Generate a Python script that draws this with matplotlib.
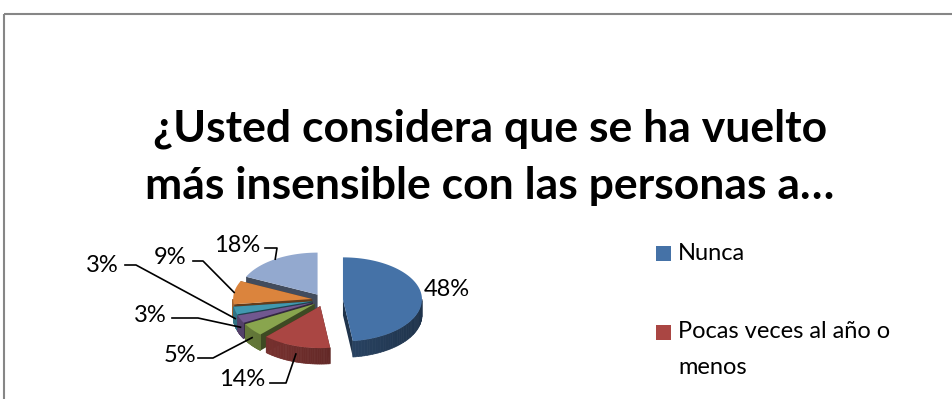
# -*- coding: utf-8 -*-
# plot.py - pie 3D "¿Usted considera que se ha vuelto más insensible...?"
import textwrap
import numpy as np
import matplotlib
matplotlib.use("Agg")
import matplotlib.pyplot as plt
from matplotlib.patches import Polygon, Rectangle
from matplotlib.colors import to_rgb

# ---------- datos ----------
categories = ["Nunca", "Pocas veces al año o menos", "Una vez al mes o menos",
              "Unas pocas veces al mes", "Una vez a la semana",
              "Pocas veces a la semana", "Todos los días"]
percent = [48, 14, 5, 3, 3, 9, 18]
title_lines = ["¿Usted considera que se ha vuelto", "más insensible con las personas a…"]

# ---------- estilo ----------
colors = ["#4572A7", "#AA4643", "#89A54E", "#71588F", "#4198AF", "#DB843D", "#93A9CF"]
explode = [19, 12, 12, 12, 12, 12, 12]          # separación de cada sector (px)
label_xy = [(447, 290), (242, 380), (180, 356), (150, 315), (102, 265), (170, 258), (237, 245)]
leader_start = [None, (270, 383), (198, 358), (172, 318), (125, 265), (193, 261), (265, 248)]
leader_elbow = [None, (286, 383), (213, 358), (198, 318), (136, 265), (203, 261), (277, 248)]

plt.rcParams['font.family'] = ['Lato', 'DejaVu Sans']

W, H = 953, 399
fig = plt.figure(figsize=(W / 100, H / 100), dpi=100)
ax = fig.add_axes([0, 0, 1, 1])
ax.set_xlim(0, W); ax.set_ylim(H, 0); ax.axis("off")

# marco del gráfico
ax.add_patch(Rectangle((4.5, 13.5), 1200, 600, fill=False, ec="#868686", lw=1.5))

# título
ax.text(490, 129, title_lines[0], ha="center", va="center", fontsize=32, fontweight="bold")
ax.text(490, 186, title_lines[1], ha="center", va="center", fontsize=32, fontweight="bold")

# ---------- pastel 3D ----------
cx, cy, rx, ry, depth = 324, 300, 79, 42, 16
total = sum(percent)
starts = np.cumsum([0] + percent[:-1]) / total * 360
ends = np.cumsum(percent) / total * 360


def edge(t, off):
    r = np.radians(t)
    return cx + off[0] + rx * np.sin(r), cy + off[1] - ry * np.cos(r)


def shade(c, f):
    return tuple(np.clip(np.array(to_rgb(c)) * f, 0, 1))


slices = []
for i in range(len(percent)):
    mid = np.radians((starts[i] + ends[i]) / 2)
    off = (explode[i] * np.sin(mid), -explode[i] * np.cos(mid) * ry / rx)
    slices.append((i, mid, off))

# de atrás hacia adelante
for i, mid, off in sorted(slices, key=lambda s: -np.cos(s[1])):
    t1, t2 = starts[i], ends[i]
    apex = (cx + off[0], cy + off[1])
    # caras radiales
    for t in (t1, t2):
        ex, ey = edge(t, off)
        ax.add_patch(Polygon([apex, (ex, ey), (ex, ey + depth), (apex[0], apex[1] + depth)],
                             closed=True, fc=shade(colors[i], 0.45), ec="none"))
    # pared exterior visible
    a, b = max(t1, 90), min(t2, 270)
    if a < b:
        ts = np.linspace(a, b, 40)
        for k in range(len(ts) - 1):
            x0, y0 = edge(ts[k], off)
            x1, y1 = edge(ts[k + 1], off)
            f = 0.6 - 0.15 * np.sin(np.radians((ts[k] + ts[k + 1]) / 2))
            ax.add_patch(Polygon([(x0, y0), (x1, y1), (x1, y1 + depth), (x0, y0 + depth)],
                                 closed=True, fc=shade(colors[i], f), ec=shade(colors[i], f), lw=0.5))
    # cara superior
    ts = np.linspace(t1, t2, 80)
    pts = [apex] + [edge(t, off) for t in ts]
    ax.add_patch(Polygon(pts, closed=True, fc=colors[i], ec="none"))

# etiquetas y líneas guía
for i, mid, off in slices:
    ax.text(label_xy[i][0], label_xy[i][1], f"{percent[i]}%", ha="center", va="center", fontsize=17)
    if leader_start[i] is None:
        continue
    ex, ey = edge(np.degrees(mid), off)
    if np.cos(mid) < 0:
        ey += depth * 0.5
    xs = [leader_start[i][0], leader_elbow[i][0], ex]
    ys = [leader_start[i][1], leader_elbow[i][1], ey]
    ax.plot(xs, ys, color="black", lw=1.2)

# ---------- leyenda (sólo caben las dos primeras entradas) ----------
for i, cat in enumerate(categories):
    y = 253 + i * 79
    if y > H - 15:
        break
    ax.add_patch(Rectangle((656, y - 7.5), 15, 15, fc=colors[i], ec="none"))
    for j, line in enumerate(textwrap.wrap(cat, 20)):
        ax.text(678, y + j * 36, line, ha="left", va="center", fontsize=17)

fig.savefig("out.png", dpi=100)
